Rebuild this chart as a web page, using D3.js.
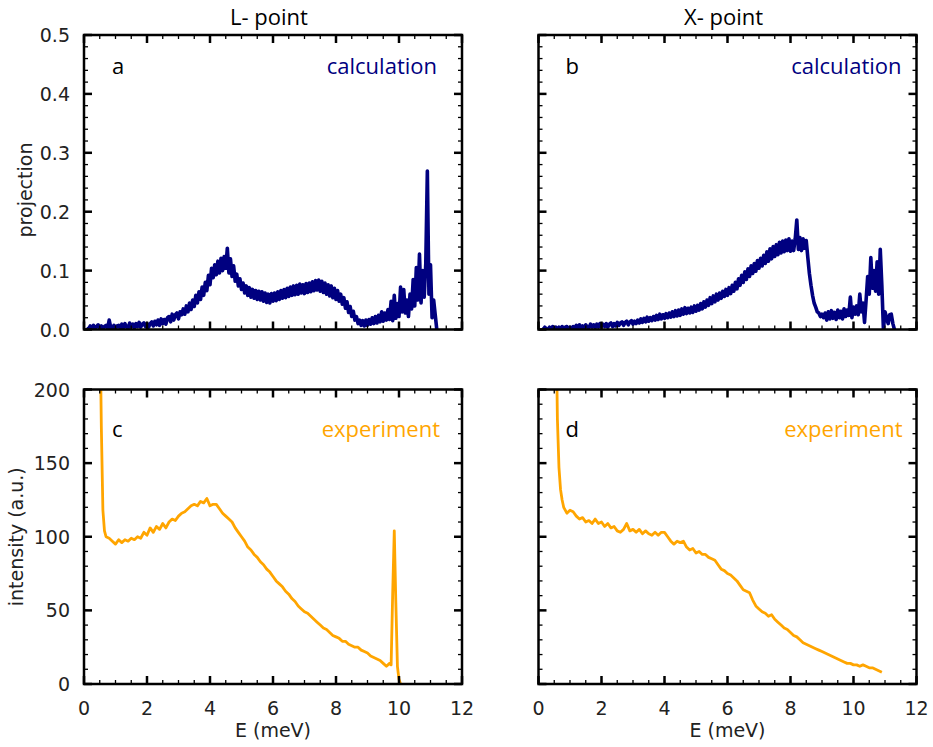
<!DOCTYPE html>
<html><head><meta charset="utf-8">
<script src="https://cdn.jsdelivr.net/npm/d3@7"></script>
<style>
html,body{margin:0;padding:0;background:#fff;}
svg{display:block;}
.tl{font-family:"DejaVu Sans",sans-serif;fill:#222;}
.ann{font-family:"Open Sans",sans-serif;}
</style></head><body>
<svg id="c" width="933" height="747"></svg>
<script>
// ---------------- DATA ----------------
const xTicks = [0, 2, 4, 6, 8, 10, 12];
const yTicksCalc = ["0.0", "0.1", "0.2", "0.3", "0.4", "0.5"];
const yTicksExp = [0, 50, 100, 150, 200];
const columnTitles = ["L- point", "X- point"];
const panelLetters = ["a", "b", "c", "d"];
const panelTexts = ["calculation", "calculation", "experiment", "experiment"];

// calculation: sampled on a 0.05 meV grid starting at 0.1 meV
const calcStartE = 0.1, calcStepE = 0.05;
const calcL = [
 0.004,0.001,0.006,0.002,0.007,0.001,0.005,0.008,0.002,0.006,0.001,0.005,0.007,0.002,0.016,0.003,0.002,0.007,0.001,0.006,
 0.007,0.002,0.009,0.003,0.010,0.004,0.002,0.011,0.004,0.009,0.003,0.010,0.005,0.012,0.004,0.009,0.011,0.005,0.010,0.004,
 0.010,0.013,0.006,0.014,0.008,0.016,0.007,0.018,0.010,0.017,0.009,0.020,0.022,0.013,0.026,0.016,0.025,0.028,0.018,0.030,
 0.025,0.035,0.026,0.040,0.030,0.045,0.034,0.050,0.039,0.058,0.045,0.064,0.051,0.072,0.058,0.080,0.066,0.092,0.076,0.104,
 0.088,0.110,0.093,0.116,0.096,0.121,0.100,0.124,0.104,0.138,0.096,0.120,0.090,0.108,0.082,0.094,0.074,0.086,0.068,0.079,
 0.062,0.074,0.058,0.071,0.055,0.068,0.053,0.066,0.051,0.065,0.050,0.064,0.048,0.062,0.046,0.060,0.045,0.061,0.048,0.062,
 0.049,0.064,0.051,0.066,0.053,0.068,0.054,0.070,0.056,0.072,0.058,0.074,0.059,0.075,0.060,0.077,0.062,0.076,0.061,0.078,
 0.063,0.079,0.064,0.081,0.066,0.083,0.067,0.084,0.065,0.082,0.063,0.079,0.060,0.076,0.057,0.074,0.054,0.070,0.051,0.066,
 0.048,0.060,0.043,0.054,0.036,0.047,0.029,0.039,0.022,0.031,0.016,0.022,0.010,0.016,0.007,0.015,0.006,0.016,0.007,0.017,
 0.009,0.020,0.010,0.022,0.011,0.024,0.013,0.030,0.014,0.028,0.016,0.034,0.017,0.048,0.015,0.058,0.019,0.044,0.022,0.072,
 0.030,0.068,0.028,0.050,0.022,0.060,0.035,0.085,0.040,0.105,0.050,0.128,0.045,0.100,0.055,0.112,0.269,0.060,0.110,0.020,
 0.050,0.025,0.000
];
const calcX = [
 0.002,0.000,0.004,0.001,0.000,0.004,0.001,0.005,0.001,0.004,0.000,0.004,0.001,0.005,0.001,0.004,0.005,0.001,0.004,0.001,
 0.005,0.002,0.007,0.003,0.008,0.002,0.006,0.003,0.008,0.004,0.003,0.009,0.004,0.008,0.003,0.009,0.004,0.010,0.005,0.009,
 0.005,0.010,0.004,0.009,0.011,0.005,0.010,0.006,0.012,0.007,0.011,0.013,0.007,0.012,0.014,0.008,0.013,0.015,0.009,0.014,
 0.010,0.016,0.011,0.018,0.012,0.019,0.013,0.021,0.014,0.020,0.015,0.022,0.016,0.024,0.017,0.026,0.018,0.025,0.019,0.027,
 0.020,0.028,0.021,0.030,0.022,0.032,0.023,0.033,0.024,0.035,0.026,0.037,0.027,0.036,0.028,0.038,0.029,0.040,0.031,0.041,
 0.033,0.044,0.035,0.047,0.038,0.050,0.041,0.054,0.044,0.057,0.047,0.060,0.050,0.062,0.053,0.065,0.056,0.068,0.058,0.071,
 0.061,0.075,0.065,0.080,0.069,0.086,0.075,0.092,0.080,0.098,0.085,0.103,0.090,0.108,0.095,0.112,0.099,0.117,0.104,0.121,
 0.108,0.126,0.112,0.132,0.116,0.137,0.120,0.141,0.124,0.144,0.127,0.148,0.130,0.150,0.132,0.152,0.134,0.154,0.133,0.150,
 0.134,0.154,0.186,0.136,0.156,0.134,0.154,0.138,0.151,0.122,0.095,0.075,0.058,0.045,0.038,0.030,0.028,0.022,0.026,0.020,
 0.028,0.016,0.030,0.018,0.032,0.019,0.029,0.017,0.033,0.020,0.031,0.018,0.035,0.022,0.033,0.024,0.055,0.020,0.038,0.026,
 0.040,0.025,0.060,0.030,0.045,0.012,0.050,0.090,0.060,0.122,0.070,0.100,0.065,0.115,0.060,0.136,0.075,0.000,0.030,0.020,
 0.010,0.025,0.026,0.010,0.000
];

// experiment
const expLE = [0.5,0.55,0.6,0.65,0.7,0.8,0.9,1.0,1.1,1.2,1.3,1.4,1.5,1.6,1.7,1.8,1.9,2.0,2.1,2.2,2.3,2.4,2.5,2.6,2.7,2.8,2.9,3.0,
 3.1,3.2,3.3,3.4,3.5,3.6,3.7,3.8,3.9,4.0,4.1,4.2,4.3,4.4,4.5,4.6,4.7,4.8,4.9,5.0,5.1,5.2,5.3,5.4,5.5,5.6,5.7,5.8,5.9,6.0,
 6.1,6.2,6.3,6.4,6.5,6.6,6.7,6.8,6.9,7.0,7.1,7.2,7.3,7.4,7.5,7.6,7.7,7.8,7.9,8.0,8.1,8.2,8.3,8.4,8.5,8.6,8.7,8.8,8.9,9.0,
 9.1,9.2,9.3,9.4,9.5,9.6,9.7,9.75,9.8,9.85,9.9,9.95,10.0,10.05];
const expLI = [260,175,118,104,100,99,97,95,98,96,98,97,99,98,100,99,103,101,106,103,107,105,109,106,110,112,111,114,
 116,117,119,121,122,121,124,123,126,121,122,122,119,116,114,112,110,106,103,100,97,93,91,88,86,83,81,78,76,73,
 70,68,66,63,61,58,56,53,51,49,48,46,44,42,40,38,37,35,33,32,31,29,29,27,26,25,25,23,22,21,
 19,18,17,16,14,12,14,13,62,104,55,12,3,0];
const expXE = [0.55,0.6,0.65,0.7,0.75,0.8,0.9,1.0,1.1,1.2,1.3,1.4,1.5,1.6,1.7,1.8,1.9,2.0,2.1,2.2,2.3,2.4,2.5,2.6,2.7,2.8,2.9,
 3.0,3.1,3.2,3.3,3.4,3.5,3.6,3.7,3.8,3.9,4.0,4.1,4.2,4.3,4.4,4.5,4.6,4.7,4.8,4.9,5.0,5.1,5.2,5.3,5.4,5.5,5.6,5.7,5.8,5.9,
 6.0,6.1,6.2,6.3,6.4,6.5,6.6,6.7,6.8,6.9,7.0,7.1,7.2,7.3,7.4,7.5,7.6,7.7,7.8,7.9,8.0,8.1,8.2,8.3,8.4,8.5,8.6,8.7,8.8,8.9,
 9.0,9.1,9.2,9.3,9.4,9.5,9.6,9.7,9.8,9.9,10.0,10.1,10.2,10.3,10.4,10.5,10.6,10.7,10.8,10.9];
const expXI = [260,180,147,132,125,120,116,118,117,114,112,113,110,111,109,112,109,110,107,109,106,107,104,103,105,109,104,
 105,103,105,102,104,102,101,103,101,103,103,100,97,95,97,96,97,93,91,92,89,90,88,88,86,85,84,81,78,77,
 75,74,72,70,67,64,63,62,57,53,51,49,48,46,47,44,42,40,38,37,35,33,32,30,28,27,26,25,24,23,
 22,21,20,19,18,17,16,15,14,14,13,13,12,13,12,11,11,10,9,8];

// ---------------- DRAW ----------------
const svg = d3.select("#c");
const calcColor = "#000080", expColor = "#FFA500";
const cols = [{x0: 84, x1: 462}, {x0: 538.5, x1: 916.5}];
const rows = [{y0: 35, y1: 329.5}, {y0: 389.5, y1: 684}];

function calcPts(vals){ return vals.map((v,i)=>({e:+(calcStartE+calcStepE*i).toFixed(2), v})); }
function expPts(E,I){ return E.map((e,i)=>({e, v:I[i]})); }

const panels = [
  {r:0,c:0,data:calcPts(calcL),dom:[0,0.5],major:0.1,minor:0.02,color:calcColor,lw:3.6,lx:28,rx:25,by:39},
  {r:0,c:1,data:calcPts(calcX),dom:[0,0.5],major:0.1,minor:0.02,color:calcColor,lw:3.6,lx:27,rx:15,by:39},
  {r:1,c:0,data:expPts(expLE,expLI),dom:[0,200],major:50,minor:10,color:expColor,lw:2.8,lx:28,rx:22,by:47},
  {r:1,c:1,data:expPts(expXE,expXI),dom:[0,200],major:50,minor:10,color:expColor,lw:2.8,lx:27,rx:14,by:47}
];

panels.forEach((p,k)=>{
  const C = cols[p.c], R = rows[p.r];
  const x = d3.scaleLinear().domain([0,12]).range([C.x0,C.x1]);
  const y = d3.scaleLinear().domain(p.dom).range([R.y1,R.y0]);
  const g = svg.append("g");
  const cid = "clip"+k;
  svg.append("clipPath").attr("id",cid).append("rect")
    .attr("x",C.x0).attr("y",R.y0).attr("width",C.x1-C.x0).attr("height",R.y1-R.y0);

  // curve
  g.append("path").datum(p.data)
    .attr("clip-path",`url(#${cid})`)
    .attr("fill","none").attr("stroke",p.color).attr("stroke-width",p.lw)
    .attr("stroke-linejoin","round")
    .attr("d", d3.line().x(d=>x(d.e)).y(d=>y(d.v)));

  // ticks (inward, all four sides)
  const xMinor = d3.range(0, 12.001, 0.5), xMajor = xTicks;
  const yMinor = d3.range(p.dom[0], p.dom[1]+1e-9, p.minor);
  const yMajor = d3.range(p.dom[0], p.dom[1]+1e-9, p.major);
  const tk = g.append("g").attr("stroke","#000");
  xMinor.forEach(v=>{
    tk.append("line").attr("x1",x(v)).attr("x2",x(v)).attr("y1",R.y1).attr("y2",R.y1-4).attr("stroke-width",1.3);
    tk.append("line").attr("x1",x(v)).attr("x2",x(v)).attr("y1",R.y0).attr("y2",R.y0+4).attr("stroke-width",1.3);
  });
  xMajor.forEach(v=>{
    tk.append("line").attr("x1",x(v)).attr("x2",x(v)).attr("y1",R.y1).attr("y2",R.y1-8).attr("stroke-width",2.5);
    tk.append("line").attr("x1",x(v)).attr("x2",x(v)).attr("y1",R.y0).attr("y2",R.y0+8).attr("stroke-width",2.5);
  });
  yMinor.forEach(v=>{
    tk.append("line").attr("y1",y(v)).attr("y2",y(v)).attr("x1",C.x0).attr("x2",C.x0+4).attr("stroke-width",1.3);
    tk.append("line").attr("y1",y(v)).attr("y2",y(v)).attr("x1",C.x1).attr("x2",C.x1-4).attr("stroke-width",1.3);
  });
  yMajor.forEach(v=>{
    tk.append("line").attr("y1",y(v)).attr("y2",y(v)).attr("x1",C.x0).attr("x2",C.x0+8).attr("stroke-width",2.5);
    tk.append("line").attr("y1",y(v)).attr("y2",y(v)).attr("x1",C.x1).attr("x2",C.x1-8).attr("stroke-width",2.5);
  });

  // frame
  g.append("rect").attr("x",C.x0).attr("y",R.y0).attr("width",C.x1-C.x0).attr("height",R.y1-R.y0)
    .attr("fill","none").attr("stroke","#000").attr("stroke-width",2.5);

  // tick labels
  if (p.c===0){
    const labels = p.r===0 ? yTicksCalc : yTicksExp;
    labels.forEach(t=>{
      g.append("text").attr("class","tl").attr("x",C.x0-14).attr("y",y(+t)+7)
        .attr("text-anchor","end").attr("font-size",19).text(t);
    });
  }
  if (p.r===1){
    xTicks.forEach(t=>{
      g.append("text").attr("class","tl").attr("x",x(t)).attr("y",R.y1+31)
        .attr("text-anchor","middle").attr("font-size",19).text(t);
    });
    g.append("text").attr("class","tl").attr("x",(C.x0+C.x1)/2).attr("y",R.y1+53)
      .attr("text-anchor","middle").attr("font-size",19).text("E (meV)");
  }

  // annotations
  g.append("text").attr("class","ann").attr("x",C.x0+p.lx).attr("y",R.y0+p.by)
    .attr("font-size",22).attr("fill","#000").text(panelLetters[k]);
  g.append("text").attr("class","ann").attr("x",C.x1-p.rx).attr("y",R.y0+p.by)
    .attr("font-size",22).attr("text-anchor","end").attr("fill",p.color).text(panelTexts[k]);
});

// column titles
columnTitles.forEach((t,i)=>{
  svg.append("text").attr("class","ann").attr("x",(cols[i].x0+cols[i].x1)/2 - 4).attr("y",25)
    .attr("text-anchor","middle").attr("font-size",22).attr("fill","#000").text(t);
});
// y axis labels
svg.append("text").attr("class","tl").attr("transform",`translate(32,190) rotate(-90)`)
  .attr("text-anchor","middle").attr("font-size",19).text("projection");
svg.append("text").attr("class","tl").attr("transform",`translate(23,${(rows[1].y0+rows[1].y1)/2}) rotate(-90)`)
  .attr("text-anchor","middle").attr("font-size",19).text("intensity (a.u.)");
</script>
</body></html>
